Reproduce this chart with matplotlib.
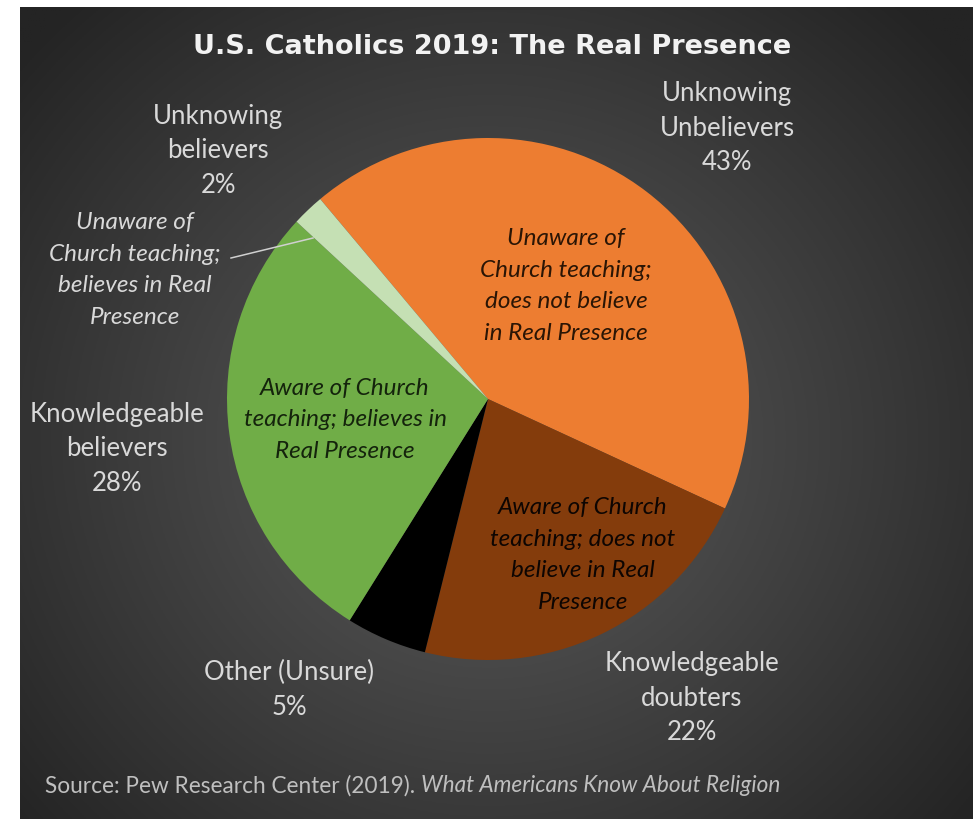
import numpy as np
import matplotlib
matplotlib.use("Agg")
import matplotlib.pyplot as plt

# Pie data (clockwise order, starting at the upper left)
segments = ["Unknowing Unbelievers", "Knowledgeable doubters", "Other (Unsure)",
            "Knowledgeable believers", "Unknowing believers"]
shares = [43, 22, 5, 28, 2]
colors = ["#ED7D31", "#843C0C", "#000000", "#70AD47", "#C5E0B4"]

outer_names = ["Unknowing\nUnbelievers", "Knowledgeable\ndoubters", "Other (Unsure)",
               "Knowledgeable\nbelievers", "Unknowing\nbelievers"]
inner_notes = ["Unaware of\nChurch teaching;\ndoes not believe\nin Real Presence",
               "Aware of Church\nteaching; does not\nbelieve in Real\nPresence",
               "",
               "Aware of Church\nteaching; believes in\nReal Presence",
               "Unaware of\nChurch teaching;\nbelieves in Real\nPresence"]

title = "U.S. Catholics 2019: The Real Presence"
source_plain = "Source: Pew Research Center (2019). "
source_italic = "What Americans Know About Religion"

W, H = 973, 819
fig = plt.figure(figsize=(W / 100, H / 100), dpi=100, facecolor="white")
ax = fig.add_axes([0, 0, 1, 1])
ax.set_xlim(0, W)
ax.set_ylim(0, H)
ax.set_axis_off()


def Y(y):
    return H - y


# dark radial-gradient backdrop
x0, y0 = 20, 7
gx, gy = np.meshgrid(np.linspace(x0, W, 400), np.linspace(y0, H, 400))
d = np.hypot(gx - 490, (gy - 440) * 1.05) / 620
d = np.clip(d, 0, 1)
c_in, c_out = np.array([0x5a, 0x5a, 0x5a]) / 255, np.array([0x24, 0x24, 0x24]) / 255
img = c_in[None, None, :] * (1 - d[..., None] ** 1.1) + c_out[None, None, :] * d[..., None] ** 1.1
ax.imshow(img, extent=[x0, W, Y(H), Y(y0)], origin="upper", aspect="auto", zorder=0)

cx, cy, r = 488, 399, 261
wedges, _ = ax.pie(shares, colors=colors, startangle=130, counterclock=False,
                   center=(cx, Y(cy)), radius=r, frame=True,
                   wedgeprops=dict(linewidth=0))
for w in wedges:
    w.set_zorder(2)
ax.set_xlim(0, W)
ax.set_ylim(0, H)
ax.set_aspect("equal")
ax.set_axis_off()

font = "Lato"
txt = "#d9d9d9"
fs = 18.5

# outer labels: name and percentage
outer_pos = [(727, 128), (692, 698), (289, 690), (117, 449), (218, 151)]
for name, val, (px, py) in zip(outer_names, shares, outer_pos):
    ax.text(px, Y(py), f"{name}\n{val}%", ha="center", va="center", color=txt,
            fontsize=fs, family=font, linespacing=1.47, zorder=5)

# descriptions inside the slices
inner_pos = [(566, 286), (583, 555), None, (345, 420), (135, 270)]
inner_col = ["#2a1505", "#0d0502", None, "#14230c", txt]
for note, pos, col in zip(inner_notes, inner_pos, inner_col):
    if not note:
        continue
    ax.text(pos[0], Y(pos[1]), note, ha="center", va="center", color=col,
            fontsize=17.5, family=font, style="italic", linespacing=1.64, zorder=5)

# leader line to the thin slice
ax.plot([231, 313], [Y(258), Y(238)], color="#d0d0d0", lw=1.1, zorder=4)

ax.text(492, Y(47), title, ha="center", va="center", color="#f2f2f2",
        fontsize=19.5, family="DejaVu Sans", weight="bold", zorder=5)

t1 = ax.text(45, Y(786), source_plain, ha="left", va="center", color="#bfbfbf",
             fontsize=16.3, family=font, zorder=5)
fig.canvas.draw()
bb = t1.get_window_extent()
ax.text(bb.x1, Y(786), source_italic, ha="left", va="center", color="#bfbfbf",
        fontsize=16.3, family=font, style="italic", zorder=5)

fig.savefig("out.png", dpi=100, facecolor="white")
